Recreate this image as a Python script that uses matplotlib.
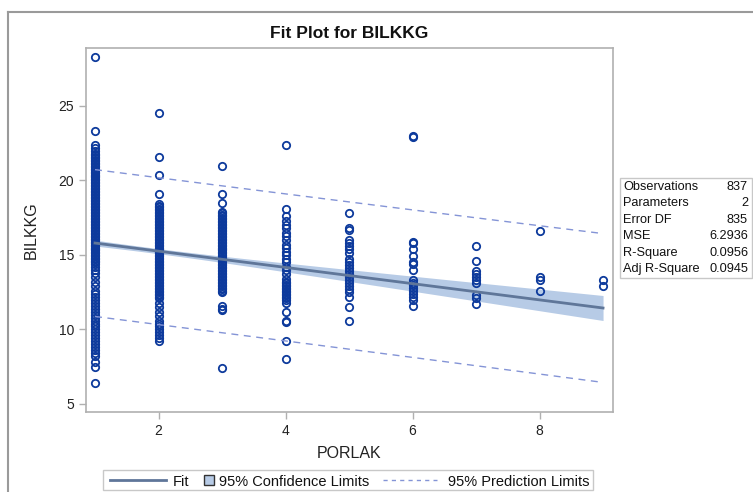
import numpy as np
import matplotlib
matplotlib.use('Agg')
import matplotlib.pyplot as plt
from matplotlib.lines import Line2D
from matplotlib.patches import Rectangle

plt.rcParams['font.family'] = ['Liberation Sans', 'DejaVu Sans']

# BILKKG observations grouped by PORLAK
y_at_1 = [28.3, 23.3, 22.4, 22.2, 22.0, 21.8, 21.7, 21.6, 21.5, 21.4, 21.3, 21.2, 21.1,
          21.0, 20.9, 20.8, 20.7, 20.6, 20.5, 20.4, 20.3, 20.2, 20.1, 20.0, 19.9, 19.8,
          19.7, 19.6, 19.5, 19.4, 19.3, 19.2, 19.1, 19.0, 18.9, 18.8, 18.7, 18.6, 18.5,
          18.4, 18.3, 18.2, 18.1, 18.0, 17.9, 17.8, 17.7, 17.6, 17.5, 17.4, 17.3, 17.2,
          17.1, 17.0, 16.9, 16.8, 16.7, 16.6, 16.5, 16.4, 16.3, 16.2, 16.1, 16.0, 15.9,
          15.8, 15.7, 15.6, 15.5, 15.4, 15.3, 15.2, 15.1, 15.0, 14.9, 14.8, 14.7, 14.6,
          14.5, 14.4, 14.2, 14.0, 13.8, 13.5, 13.2, 12.9, 12.6, 12.4, 12.2, 12.0, 11.8,
          11.6, 11.4, 11.2, 11.0, 10.8, 10.6, 10.4, 10.2, 10.0, 9.8, 9.6, 9.4, 9.2, 9.0,
          8.8, 8.6, 8.4, 8.2, 7.8, 7.5, 6.4]
y_at_2 = [24.5, 21.6, 20.4, 19.1, 18.4, 18.3, 18.2, 18.1, 18.0, 17.9, 17.8, 17.7, 17.6,
          17.5, 17.4, 17.3, 17.2, 17.1, 17.0, 16.9, 16.8, 16.7, 16.6, 16.5, 16.4, 16.3,
          16.2, 16.1, 16.0, 15.9, 15.8, 15.7, 15.6, 15.5, 15.4, 15.3, 15.2, 15.1, 15.0,
          14.9, 14.8, 14.7, 14.6, 14.5, 14.4, 14.3, 14.2, 14.1, 14.0, 13.9, 13.8, 13.7,
          13.6, 13.5, 13.4, 13.3, 13.2, 13.1, 13.0, 12.9, 12.8, 12.7, 12.6, 12.5, 12.4,
          12.3, 12.2, 12.1, 11.8, 11.5, 11.2, 10.9, 10.6, 10.4, 10.2, 10.0, 9.8, 9.6,
          9.4, 9.2]
y_at_3 = [21.0, 19.1, 18.5, 17.9, 17.8, 17.7, 17.6, 17.5, 17.4, 17.3, 17.2, 17.1, 17.0,
          16.9, 16.8, 16.7, 16.6, 16.5, 16.4, 16.3, 16.2, 16.1, 16.0, 15.9, 15.8, 15.7,
          15.6, 15.5, 15.4, 15.3, 15.2, 15.1, 15.0, 14.9, 14.8, 14.7, 14.6, 14.5, 14.4,
          14.3, 14.2, 14.1, 14.0, 13.9, 13.8, 13.7, 13.6, 13.5, 13.4, 13.3, 13.2, 13.1,
          13.0, 12.9, 12.8, 12.7, 12.6, 12.5, 11.6, 11.4, 11.3, 7.4]
y_at_4 = [22.4, 18.1, 17.6, 17.3, 17.0, 16.8, 16.5, 16.3, 16.0, 15.7, 15.5, 15.2, 15.0,
          14.7, 14.5, 14.2, 14.0, 13.7, 13.4, 13.2, 13.1, 13.0, 12.9, 12.8, 12.7, 12.6,
          12.5, 12.4, 12.3, 12.2, 12.1, 12.0, 11.8, 11.2, 10.6, 10.5, 9.2, 8.0]
y_at_5 = [17.8, 16.8, 16.7, 16.0, 15.8, 15.6, 15.4, 15.1, 14.7, 14.5, 14.3, 14.1, 13.9,
          13.7, 13.5, 13.3, 13.1, 12.9, 12.7, 12.5, 12.2, 11.5, 10.6]
y_at_6 = [23.0, 22.9, 15.9, 15.8, 15.4, 14.95, 14.5, 14.4, 14.0, 13.3, 13.1, 13.0, 12.8,
          12.6, 12.4, 12.2, 12.0, 11.6]
y_at_7 = [15.6, 14.6, 13.9, 13.7, 13.5, 13.3, 13.1, 12.3, 12.1, 11.7]
y_at_8 = [16.6, 13.5, 13.3, 12.6]
y_at_9 = [13.3, 12.9]
porlak_groups = [1, 2, 3, 4, 5, 6, 7, 8, 9]
bilkkg_groups = [y_at_1, y_at_2, y_at_3, y_at_4, y_at_5, y_at_6, y_at_7, y_at_8, y_at_9]

# regression summary
intercept = 16.345
slope = -0.545
n_obs = 837
mse = 6.2936
x_mean = 1.9
sxx = 1810.0
t_crit = 1.9628

stat_names = ['Observations', 'Parameters', 'Error DF', 'MSE', 'R-Square', 'Adj R-Square']
stat_values = ['837', '2', '835', '6.2936', '0.0956', '0.0945']
legend_labels = ['Fit', '95% Confidence Limits', '95% Prediction Limits']

marker_col = '#0d3a9c'
fit_col = '#5f7699'
clm_col = '#b7cbe6'
pred_col = '#8494d6'
axis_grey = '#b0b0b0'

W, H = 753, 492


def fx(px):
    return px / W


def fy(py):
    return 1 - py / H


fig = plt.figure(figsize=(W / 100, H / 100), dpi=100)
ax = fig.add_axes([0.1142, 0.1626, 0.6999, 0.7398])

xg = np.linspace(1, 9, 200)
yhat = intercept + slope * xg
lev = 1.0 / n_obs + (xg - x_mean) ** 2 / sxx
clm = t_crit * np.sqrt(mse * lev)
cli = t_crit * np.sqrt(mse * (1 + lev))

ax.fill_between(xg, yhat - clm, yhat + clm, color=clm_col, lw=0, zorder=1)
for xv, ys in zip(porlak_groups, bilkkg_groups):
    ax.plot([xv] * len(ys), ys, 'o', mfc='none', mec=marker_col, ms=5.3, mew=1.3, zorder=2)
ax.plot(xg, yhat, color=fit_col, lw=2, zorder=3)
ax.plot(xg, yhat + cli, color=pred_col, lw=1, ls=(0, (5, 4)), zorder=3)
ax.plot(xg, yhat - cli, color=pred_col, lw=1, ls=(0, (5, 4)), zorder=3)

ax.set_xlim(0.858, 9.157)
ax.set_ylim(4.46, 28.89)
ax.set_xticks([2, 4, 6, 8])
ax.set_yticks([5, 10, 15, 20, 25])
for s in ax.spines.values():
    s.set_color(axis_grey)
    s.set_linewidth(1.2)
ax.tick_params(colors=axis_grey, labelcolor='#222222', labelsize=10, length=5, width=1)
ax.set_xlabel('PORLAK', fontsize=11.5, color='#222222', labelpad=6)
ax.set_ylabel('BILKKG', fontsize=11.5, color='#222222', labelpad=14)

fig.text(fx(349), fy(33), 'Fit Plot for BILKKG', ha='center', va='center',
         fontsize=12.5, fontweight='bold', color='#111111')

# outer frame
fig.add_artist(Line2D([fx(8), fx(8)], [0, fy(12)], transform=fig.transFigure,
                      color='#9a9a9a', lw=1.5))
fig.add_artist(Line2D([fx(8), 1], [fy(12), fy(12)], transform=fig.transFigure,
                      color='#9a9a9a', lw=1.5))

# statistics table
fig.add_artist(Rectangle((fx(620), fy(278)), fx(752) - fx(620), fy(178) - fy(278),
                         transform=fig.transFigure, fill=False, ec='#c8c8c8', lw=1))
for i, (name, val) in enumerate(zip(stat_names, stat_values)):
    yy = fy(187 + i * 16.4)
    fig.text(fx(623), yy, name, ha='left', va='center', fontsize=9.2, color='#111111')
    fig.text(fx(748), yy, val, ha='right', va='center', fontsize=9.2, color='#111111')

# legend strip under the axis
ly = fy(480)
fig.add_artist(Rectangle((fx(103), fy(490)), fx(593) - fx(103), fy(470) - fy(490),
                         transform=fig.transFigure, fill=False, ec='#c8c8c8', lw=1))
fig.add_artist(Line2D([fx(110), fx(166)], [ly, ly], transform=fig.transFigure,
                      color=fit_col, lw=2))
fig.add_artist(Rectangle((fx(204), fy(485)), fx(214) - fx(204), fy(475) - fy(485),
                         transform=fig.transFigure, fc=clm_col, ec='#333333', lw=1))
fig.add_artist(Line2D([fx(383), fx(437)], [ly, ly], transform=fig.transFigure,
                      color=pred_col, lw=1, ls=(0, (3, 3))))
for x0, lab in zip([173, 219, 448], legend_labels):
    fig.text(fx(x0), ly, lab, ha='left', va='center_baseline', fontsize=10.5,
             color='#111111')

fig.savefig('out.png', dpi=100)
